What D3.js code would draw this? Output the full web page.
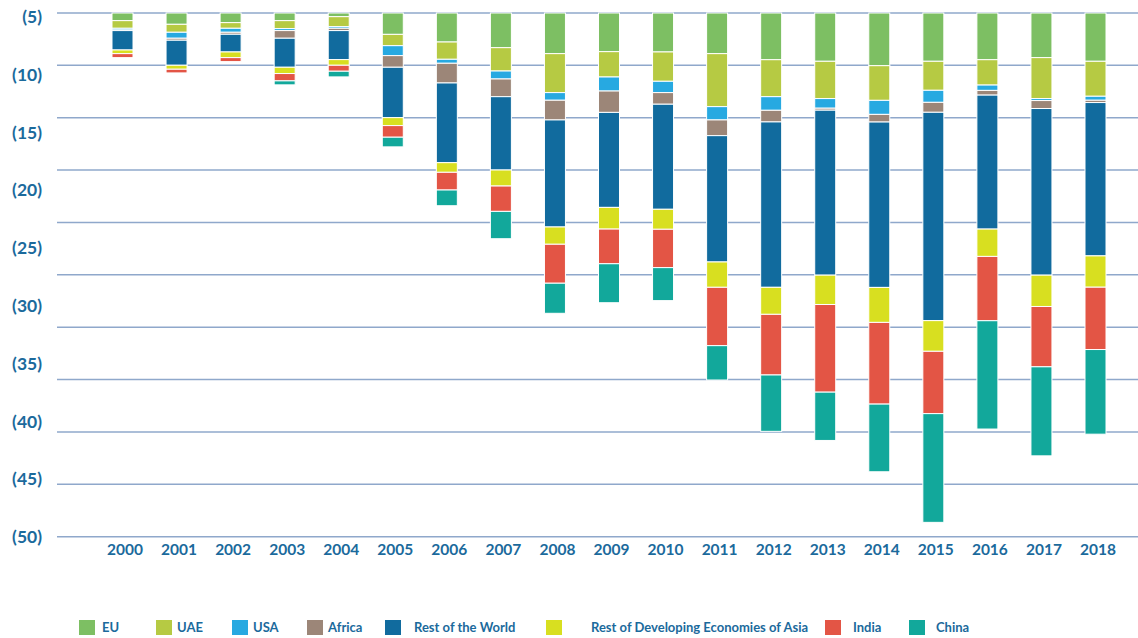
<!DOCTYPE html>
<html>
<head>
<meta charset="utf-8">
<script src="https://cdn.jsdelivr.net/npm/d3@7"></script>
<style>
  body { margin: 0; background: #fff; }
  text { font-family: Lato, "Open Sans", sans-serif; font-weight: bold; fill: #1b6a9c; }
</style>
</head>
<body>
<div id="chart-area"></div>
<script>
// Data (segment sizes, stacked downward from 0)
const years = ["2000","2001","2002","2003","2004","2005","2006","2007","2008","2009",
               "2010","2011","2012","2013","2014","2015","2016","2017","2018"]
const series = ["EU","UAE","USA","Africa","Rest of the World",
                "Rest of Developing Economies of Asia","India","China"]
const EU     = [0.73,1.08,0.92,0.73,0.35,2.04,2.77,3.31,3.88,3.69,3.72,3.88,4.46,4.61,5.03,4.61,4.46,4.26,4.61]
const UAE    = [0.73,0.76,0.54,0.76,0.95,1.08,1.65,2.23,3.72,2.42,2.80,5.06,3.53,3.56,3.31,2.77,2.42,3.91,3.34]
const USA    = [0.16,0.57,0.38,0.19,0.16,0.95,0.38,0.76,0.73,1.34,1.08,1.27,1.30,0.92,1.34,1.15,0.51,0.19,0.38]
const Africa = [0.06,0.19,0.19,0.73,0.22,1.11,1.88,1.69,1.88,2.04,1.11,1.50,1.11,0.19,0.73,0.95,0.45,0.76,0.22]
const RestOfWorld = [1.85,2.39,1.69,2.77,2.77,4.81,7.61,7.00,10.22,9.07,10.03,12.06,15.79,15.75,15.79,19.89,12.79,15.91,14.64]
const RestDevAsia = [0.35,0.38,0.54,0.60,0.54,0.76,0.92,1.53,1.65,2.07,1.91,2.42,2.58,2.80,3.34,2.93,2.61,2.99,2.99]
const India  = [0.38,0.35,0.38,0.70,0.57,1.11,1.69,2.42,3.72,3.31,3.66,5.57,5.79,8.37,7.80,5.95,6.14,5.76,5.95]
const China  = [0,0,0,0.38,0.54,0.92,1.50,2.61,2.87,3.72,3.15,3.28,5.38,4.61,6.46,10.38,10.34,8.50,8.08]
const yTicks = [0,5,10,15,20,25,30,35,40,45,50]
const yTickLabels = [5,10,15,20,25,30,35,40,45,50]
const colors = ["#7dbf63","#b6ca43","#27a9e1","#9c8678","#116b9e","#d8df20","#e35545","#12a89b"]

// Layout
const W = 1138, H = 638
const PLOT = { LEFT: 57, RIGHT: 1138, TOP: 13, BOTTOM: 536.7 }
const BAR_W = 21
const legendSquareX = [79, 156, 232, 307, 385, 546, 825, 909]
const legendTextX   = [102, 177, 253, 328, 414, 591, 853, 936]

const svg = d3.select("#chart-area").append("svg")
  .attr("width", W)
  .attr("height", H)

const x = d3.scalePoint()
  .domain(years)
  .range([122.5, 1095.5])
const y = d3.scaleLinear()
  .domain([0, 50])
  .range([PLOT.TOP, PLOT.BOTTOM])
// tick labels in the source are spread a bit wider than the gridlines
const yLabel = d3.scaleLinear()
  .domain([5, 50])
  .range([17, 537])
const cScale = d3.scaleOrdinal()
  .domain(series)
  .range(colors)

// Gridlines
svg.append("g")
  .selectAll("line")
  .data(yTicks)
  .join("line")
  .attr("x1", PLOT.LEFT)
  .attr("x2", PLOT.RIGHT)
  .attr("y1", d => y(d))
  .attr("y2", d => y(d))
  .attr("stroke", "#8fa8cb")
  .attr("stroke-width", 1.5)

// Y labels
svg.append("g")
  .selectAll("text")
  .data(yTickLabels)
  .join("text")
  .attr("x", 42)
  .attr("y", d => yLabel(d))
  .attr("dy", "0.35em")
  .attr("text-anchor", "end")
  .style("font-size", "17.5px")
  .text(d => "(" + d + ")")

// X labels
svg.append("g")
  .selectAll("text")
  .data(years)
  .join("text")
  .attr("x", d => x(d) + 2.5)
  .attr("y", 554.5)
  .attr("text-anchor", "middle")
  .style("font-size", "15.5px")
  .text(d => d)

// Stack
const values = [EU, UAE, USA, Africa, RestOfWorld, RestDevAsia, India, China]
const table = years.map((yr, i) => {
  const row = { year: yr }
  series.forEach((s, j) => row[s] = values[j][i])
  return row
})
const stacked = d3.stack().keys(series)(table)

svg.append("g")
  .selectAll("g")
  .data(stacked)
  .join("g")
  .attr("fill", d => cScale(d.key))
  .selectAll("rect")
  .data(d => d.filter(p => p[1] - p[0] > 0))
  .join("rect")
  .attr("x", d => x(d.data.year) - BAR_W / 2)
  .attr("y", d => y(d[0]))
  .attr("width", BAR_W)
  .attr("height", d => y(d[1]) - y(d[0]))
  .attr("stroke", "#fff")
  .attr("stroke-width", 1)

// Legend
const legend = svg.append("g")
  .selectAll("g")
  .data(series)
  .join("g")
legend.append("rect")
  .attr("x", (d, i) => legendSquareX[i])
  .attr("y", 620)
  .attr("width", 16)
  .attr("height", 15)
  .attr("fill", d => cScale(d))
legend.append("text")
  .attr("x", (d, i) => legendTextX[i])
  .attr("y", 627.5)
  .attr("dy", "0.35em")
  .style("font-size", "13px")
  .text(d => d)
</script>
</body>
</html>
